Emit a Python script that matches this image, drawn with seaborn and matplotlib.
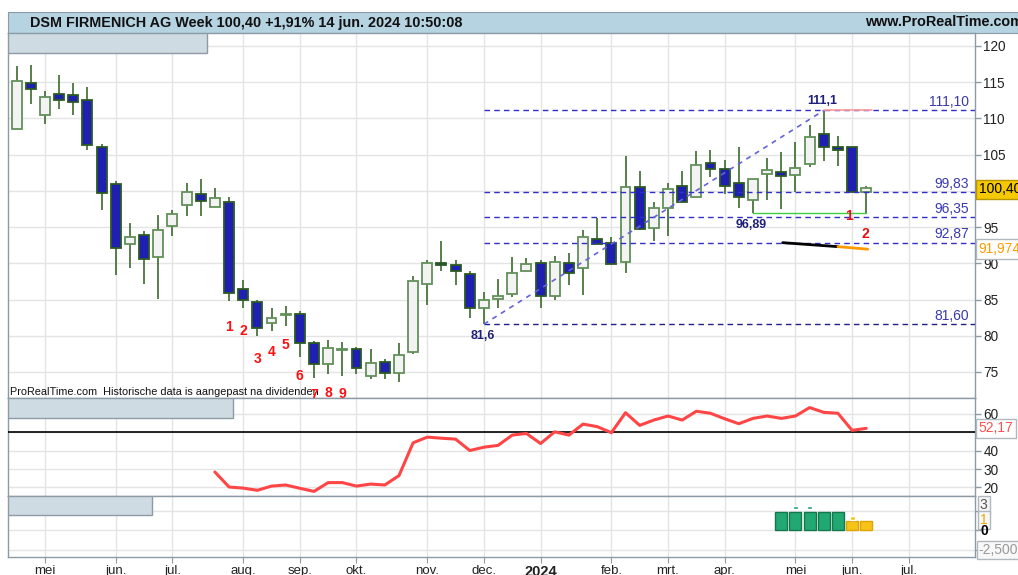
import matplotlib
matplotlib.use("Agg")
import matplotlib.pyplot as plt
from matplotlib.patches import Rectangle
import numpy as np
import pandas as pd
import seaborn as sns

W, H = 1018, 575

# weekly candles, week of 17 apr 2023 .. week of 10 jun 2024
opens = [108.5, 114.9, 110.5, 113.4, 113.3, 112.5, 106.1, 100.9, 92.7, 93.9,
         90.9, 95.2, 98.1, 99.5, 97.8, 98.5, 86.4, 84.7, 81.7, 82.9,
         83.0, 79.0, 76.1, 78.1, 78.2, 74.5, 76.4, 74.8, 77.7, 87.2,
         90.1, 89.8, 88.5, 83.9, 85.1, 85.7, 88.9, 90.1, 85.5, 90.0,
         89.3, 93.3, 92.8, 90.2, 100.6, 94.9, 97.7, 100.7, 99.1, 103.8,
         103.0, 101.1, 98.7, 102.3, 102.6, 102.2, 103.7, 107.9, 106.1, 106.0,
         99.8]
highs = [117.2, 117.4, 113.8, 116.0, 114.9, 114.3, 106.5, 101.4, 95.6, 94.5,
         96.7, 97.4, 101.1, 101.6, 100.4, 99.2, 87.7, 84.9, 83.9, 84.1,
         83.4, 79.3, 79.4, 79.1, 78.5, 78.2, 76.8, 79.0, 88.2, 90.5,
         93.1, 90.5, 88.9, 86.0, 87.8, 90.9, 90.7, 90.5, 91.0, 91.4,
         94.6, 96.2, 93.6, 104.8, 102.7, 98.4, 101.1, 102.7, 105.5, 105.6,
         104.2, 106.1, 101.6, 104.6, 105.3, 106.8, 109.1, 111.1, 107.6, 106.0,
         100.7]
lows = [108.5, 112.0, 109.2, 111.3, 110.5, 105.7, 97.3, 88.4, 89.3, 87.1,
        85.1, 93.8, 96.6, 96.6, 97.8, 84.8, 83.9, 80.0, 80.6, 81.4,
        77.1, 74.2, 74.7, 74.4, 74.7, 74.0, 74.0, 73.6, 77.5, 84.2,
        88.9, 87.0, 82.4, 81.6, 83.9, 85.4, 88.9, 83.8, 84.9, 87.0,
        85.6, 92.6, 89.9, 88.6, 94.6, 93.1, 93.8, 98.5, 99.1, 101.9,
        99.6, 97.6, 96.89, 98.7, 97.5, 99.9, 103.3, 104.1, 103.4, 99.83,
        96.9]
closes = [115.1, 114.0, 113.0, 112.5, 112.2, 106.3, 99.7, 92.1, 93.6, 90.6,
          94.6, 96.8, 99.9, 98.6, 99.0, 85.9, 84.9, 81.1, 82.4, 82.95,
          79.0, 76.1, 78.3, 78.2, 75.6, 76.2, 74.8, 77.3, 87.5, 90.0,
          89.7, 89.0, 83.9, 84.9, 85.5, 88.7, 89.9, 85.5, 90.2, 88.6,
          93.7, 92.6, 89.9, 100.6, 94.7, 97.7, 100.3, 98.5, 103.6, 103.0,
          100.7, 99.1, 101.6, 102.9, 102.1, 103.1, 107.4, 106.0, 105.6, 99.83,
          100.4]

month_idx = [2, 7, 11, 16, 20, 24, 29, 33, 37, 42, 46, 50, 55, 59, 63]
month_lbl = ["mei", "jun.", "jul.", "aug.", "sep.", "okt.", "nov.", "dec.",
             "2024", "feb.", "mrt.", "apr.", "mei", "jun.", "jul."]

rsi_idx = list(range(14, 61))
rsi_vals = [28.4, 20.2, 19.6, 18.4, 20.7, 21.3, 19.5, 17.8, 22.6, 22.6,
            20.7, 21.8, 21.3, 26.4, 44.3, 47.4, 46.8, 46.3, 40.1, 41.9,
            42.9, 48.5, 49.4, 43.9, 50.3, 48.5, 54.5, 53.1, 49.8, 60.7,
            53.8, 56.7, 58.9, 56.7, 61.5, 60.4, 57.4, 54.7, 57.6, 58.9,
            57.6, 58.9, 63.5, 60.9, 60.4, 51.1, 52.17]

level_vals = [111.10, 99.83, 96.35, 92.87, 81.60]
level_lbls = ["111,10", "99,83", "96,35", "92,87", "81,60"]

seq_idx = list(range(15, 24))
seq_y = [81.2, 80.6, 76.8, 77.7, 78.7, 74.4, 71.8, 72.1, 71.9]
seq_lbl = [str(k) for k in range(1, 10)]

sig_idx = [54, 55, 56, 57, 58, 59, 60]
sig_vals = [2.35, 2.35, 2.35, 2.35, 2.35, 1.2, 1.2]
sig_kind = ["g", "g", "g", "g", "g", "y", "y"]

XL = (-0.61, 67.68)
BORDER = "#8c9ba5"
GRID = "#e4e4e4"
TXT = "#222222"


def px_box(x0, y0, x1, y1):
    return [x0 / W, 1 - y1 / H, (x1 - x0) / W, (y1 - y0) / H]


sns.set_style("white")
plt.rcParams['font.family'] = ['Liberation Sans', 'DejaVu Sans']

fig = plt.figure(figsize=(W / 100, H / 100), dpi=100)
ax_t = fig.add_axes(px_box(8, 12, 1018, 33))
ax = fig.add_axes(px_box(8, 33, 975, 398))
ax_r = fig.add_axes(px_box(8, 398, 975, 496))
ax_s = fig.add_axes(px_box(8, 496, 975, 557))

# title bar
ax_t.set_facecolor("#b6d3e2")
ax_t.set_xticks([])
ax_t.set_yticks([])
for sp in ax_t.spines.values():
    sp.set_color(BORDER)
ax_t.text(22 / 1010, 0.5, "DSM FIRMENICH AG Week 100,40 +1,91% 14 jun. 2024 10:50:08",
          transform=ax_t.transAxes, ha="left", va="center", fontsize=10.4,
          fontweight="bold", color="#111111")
ax_t.text(857 / 1010, 0.5, "www.ProRealTime.com", transform=ax_t.transAxes,
          ha="left", va="center", fontsize=10.4, fontweight="bold", color="#111111")

for a in (ax, ax_r, ax_s):
    a.set_xlim(*XL)
    a.set_xticks(month_idx)
    a.grid(True, color=GRID, lw=1)
    a.yaxis.tick_right()
    a.tick_params(axis="y", right=True, length=4, width=1, color=BORDER,
                  labelsize=9.8, labelcolor=TXT, pad=2)
    for sp in a.spines.values():
        sp.set_color(BORDER)
        sp.set_linewidth(1)
for a in (ax, ax_r):
    a.tick_params(axis="x", bottom=False, labelbottom=False)

# ---- price panel ----
ax.set_ylim(71.41, 121.79)
ax.set_yticks(np.arange(75, 121, 5))

df = pd.DataFrame({"o": opens, "h": highs, "l": lows, "c": closes})
df["i"] = np.arange(len(df))
df["up"] = df["c"] >= df["o"]
df["bot"] = df[["o", "c"]].min(axis=1)
df["hgt"] = (df["c"] - df["o"]).abs().clip(lower=0.08)

ax.vlines(df["i"], df["l"], df["h"], color="#3c6a2e", lw=1.2, zorder=2)
up = df[df["up"]]
dn = df[~df["up"]]
ax.bar(up["i"], up["hgt"], bottom=up["bot"], width=0.7, color="#f3f3f3",
       edgecolor="#62905a", lw=1.3, zorder=3)
ax.bar(dn["i"], dn["hgt"], bottom=dn["bot"], width=0.7, color="#1f1fb2",
       edgecolor="#2c5a22", lw=1.3, zorder=3)

for v, lab in zip(level_vals, level_lbls):
    col = "#20208a" if v < 85 else "#3030c8"
    ax.hlines(v, 33, XL[1], color=col, ls=(0, (4, 3)), lw=1, zorder=4)
    ax.text(67.25, v + 1.15, lab, ha="right", va="center", fontsize=10,
            color="#3a3ab0", zorder=6)

ax.plot([33, 57], [81.6, 111.1], color="#6464d8", ls=(0, (3, 3)), lw=1.2, zorder=4)
ax.plot([57, 60.4], [111.1, 111.1], color="#ff9a9a", lw=1.2, zorder=5)
ax.plot([52, 60], [96.89, 96.89], color="#3fcf3f", lw=1, zorder=5)
ax.plot([54.1, 58], [92.85, 92.3], color="black", lw=2, zorder=5)
ax.plot([58, 60.1], [92.3, 91.95], color="#ff9900", lw=2, zorder=5)

for xi, yi, lab in [(56.9, 112.4, "111,1"), (32.9, 80.0, "81,6"), (51.9, 95.3, "96,89")]:
    ax.text(xi, yi, lab, ha="center", va="center", fontsize=9, fontweight="bold",
            color="#1f1f7a", zorder=6)

for xi, yi, lab in zip(seq_idx, seq_y, seq_lbl):
    ax.text(xi, yi, lab, ha="center", va="center", fontsize=10, fontweight="bold",
            color="#ff1010", zorder=7)
ax.text(58.8, 96.6, "1", ha="center", va="center", fontsize=10, fontweight="bold",
        color="#e81010", zorder=7)
ax.text(59.9, 94.1, "2", ha="center", va="center", fontsize=10, fontweight="bold",
        color="#e81010", zorder=7)

ax.text(2 / 967, 6 / 365, "ProRealTime.com  Historische data is aangepast na dividenden",
        transform=ax.transAxes, ha="left", va="center", fontsize=7.8, color="#111111",
        zorder=6)
ax.add_patch(Rectangle((0, 1 - 20 / 365), 199 / 967, 20 / 365, transform=ax.transAxes,
                       facecolor="#cfdbe2", edgecolor=BORDER, lw=1, zorder=8))

ytr = ax.get_yaxis_transform()
ax.text(1.004, 100.2, "100,40", transform=ytr, ha="left", va="center", fontsize=10,
        color="black", clip_on=False, zorder=10,
        bbox=dict(boxstyle="square,pad=0.2", fc="#f5c800", ec="#b89600", lw=1))
ax.text(1.004, 91.97, "91,974", transform=ytr, ha="left", va="center", fontsize=10,
        color="#ff9a00", clip_on=False, zorder=10,
        bbox=dict(boxstyle="square,pad=0.2", fc="white", ec="#b0b8bf", lw=1))

# ---- RSI panel ----
sns.lineplot(x=rsi_idx, y=rsi_vals, ax=ax_r, color="#ff4545", lw=2.2, zorder=4)
ax_r.axhline(50, color="black", lw=1.2, zorder=3)
ax_r.set_ylim(15.3, 68.72)
ax_r.set_yticks([20, 30, 40, 50, 60])
ax_r.set_xlabel("")
ax_r.set_ylabel("")
ax_r.set_xlim(*XL)
ax_r.add_patch(Rectangle((0, 1 - 20 / 98), 225 / 967, 20 / 98, transform=ax_r.transAxes,
                         facecolor="#cfdbe2", edgecolor=BORDER, lw=1, zorder=8))
ax_r.text(1.004, 52.17, "52,17", transform=ax_r.get_yaxis_transform(), ha="left",
          va="center", fontsize=10, color="#ff5050", clip_on=False, zorder=10,
          bbox=dict(boxstyle="square,pad=0.2", fc="white", ec="#b0b8bf", lw=1))

# ---- signal panel ----
ax_s.set_ylim(-3.38, 4.34)
ax_s.set_yticks([-2.5, 0, 2.5])
ax_s.set_yticklabels(["", "", ""])
face = {"g": "#21a873", "y": "#f6c419"}
edge = {"g": "#14784c", "y": "#e0a400"}
ax_s.bar(sig_idx, sig_vals, width=0.85, color=[face[k] for k in sig_kind],
         edgecolor=[edge[k] for k in sig_kind], lw=1, zorder=3)
ax_s.bar([55, 56], [0.4, 0.4], bottom=2.7, width=0.4, color="#19a06a", zorder=3)
ax_s.bar([59], [0.4], bottom=1.35, width=0.35, color="#f6c419", zorder=3)
ax_s.add_patch(Rectangle((0, 1 - 19 / 61), 144 / 967, 19 / 61, transform=ax_s.transAxes,
                         facecolor="#cfdbe2", edgecolor=BORDER, lw=1, zorder=8))
str_ = ax_s.get_yaxis_transform()
ax_s.text(1.005, 3.2, "3", transform=str_, ha="left", va="center", fontsize=10,
          color="#555555", clip_on=False,
          bbox=dict(boxstyle="square,pad=0.15", fc="#f4f4f4", ec="#b0b8bf", lw=1))
ax_s.text(1.005, 1.3, "1", transform=str_, ha="left", va="center", fontsize=10,
          color="#f0a800", clip_on=False,
          bbox=dict(boxstyle="square,pad=0.15", fc="#f8f8f8", ec="#b0b8bf", lw=1))
ax_s.text(1.006, -0.1, "0", transform=str_, ha="left", va="center", fontsize=10,
          fontweight="bold", color="black", clip_on=False)
ax_s.text(1.004, -2.5, "-2,5000", transform=str_, ha="left", va="center", fontsize=10,
          color="#999999", clip_on=False,
          bbox=dict(boxstyle="square,pad=0.15", fc="#f8f8f8", ec="#b0b8bf", lw=1))

ax_s.set_xticklabels(month_lbl)
ax_s.tick_params(axis="x", bottom=True, length=4, color=BORDER, labelsize=9.5,
                 labelcolor=TXT, pad=2)
for t in ax_s.get_xticklabels():
    if t.get_text() == "2024":
        t.set_fontweight("bold")
        t.set_fontsize(10.5)

fig.savefig("out.png", dpi=100)
